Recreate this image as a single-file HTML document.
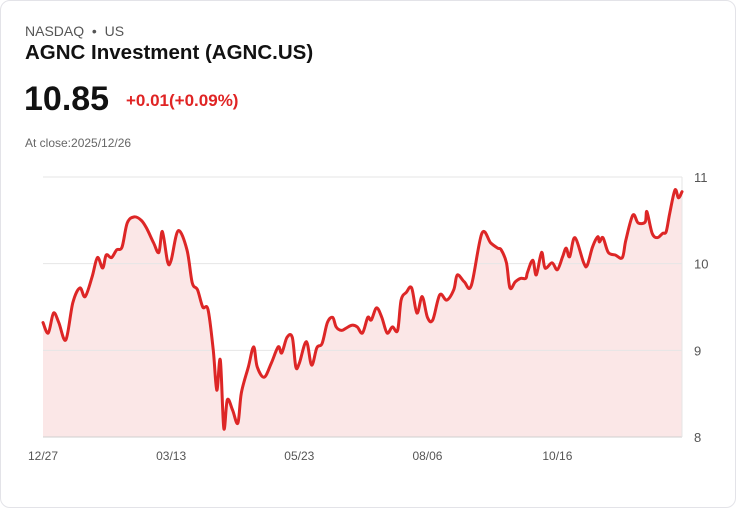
<!DOCTYPE html>
<html><head><meta charset="utf-8"><style>
html,body{margin:0;padding:0;background:#fff;}
body{width:736px;height:508px;position:relative;font-family:"Liberation Sans",sans-serif;overflow:hidden;}
.card{position:absolute;left:0;top:0;width:734px;height:506px;border:1px solid #e3e3e8;border-radius:10px;}
.t{position:absolute;white-space:nowrap;}
</style></head><body>
<div class="card"></div>
<div class="t" style="left:25px;top:23px;font-size:14px;color:#555;">NASDAQ &nbsp;•&nbsp; US</div>
<div class="t" style="left:25px;top:41px;font-size:20.5px;font-weight:bold;color:#111;">AGNC Investment (AGNC.US)</div>
<div class="t" style="left:24px;top:80px;font-size:34px;font-weight:bold;color:#111;">10.85</div>
<div class="t" style="left:126px;top:91px;font-size:17px;font-weight:bold;color:#e02424;">+0.01(+0.09%)</div>
<div class="t" style="left:25px;top:136px;font-size:12px;color:#666;">At close:2025/12/26</div>
<svg id="chart" width="736" height="508" style="position:absolute;left:0;top:0"></svg>
<script>
const days=[0,3,6,9,13,17,21,24,28,31,34,36,39,42,45,48,52,56,59,63,66,68,71,73,77,82,85,88,91,94,97,99,101,103,105,108,111,113,117,120,122,126,130,134,136,139,142,144,146,150,153,156,159,162,165,167,170,173,176,179,182,185,187,190,193,196,199,202,204,207,210,213,216,219,222,226,230,234,236,240,244,250,255,259,261,264,266,269,272,275,276,279,281,284,286,290,293,296,298,300,303,308,310,313,316,317,319,322,326,330,332,336,339,343,344,347,350,353,355,357,360,362,364];
const prices=[9.32,9.20,9.43,9.32,9.12,9.55,9.72,9.62,9.85,10.07,9.95,10.10,10.07,10.16,10.19,10.47,10.54,10.50,10.41,10.24,10.13,10.37,10.02,10.04,10.38,10.16,9.78,9.70,9.50,9.47,9.00,8.54,8.89,8.10,8.43,8.31,8.16,8.51,8.81,9.04,8.81,8.69,8.85,9.04,8.97,9.15,9.15,8.81,8.85,9.10,8.83,9.03,9.08,9.32,9.38,9.27,9.23,9.26,9.29,9.27,9.20,9.38,9.35,9.49,9.38,9.20,9.27,9.23,9.58,9.67,9.72,9.43,9.62,9.38,9.35,9.64,9.58,9.70,9.87,9.79,9.75,10.35,10.24,10.18,10.16,10.01,9.72,9.79,9.83,9.83,9.90,10.04,9.87,10.13,9.95,10.01,9.93,10.08,10.18,10.08,10.30,10.01,9.98,10.19,10.31,10.25,10.30,10.13,10.10,10.07,10.27,10.56,10.47,10.48,10.60,10.35,10.30,10.35,10.37,10.58,10.85,10.76,10.83];
const yTicks=[8,9,10,11];
const xLabels=["12/27","03/13","05/23","08/06","10/16"];
const xLabelDays=[0,73,146,219,293];
const X0=43,X1=682,Y0=437,Y1=177,DMAX=364,VMIN=8,VMAX=11;
const sx=d=>X0+(X1-X0)*d/DMAX;
const sy=v=>Y0-(Y0-Y1)*(v-VMIN)/(VMAX-VMIN);
const svg=document.getElementById('chart');
const NS='http://www.w3.org/2000/svg';
function mk(tag,attrs){const e=document.createElementNS(NS,tag);for(const k in attrs)e.setAttribute(k,attrs[k]);svg.appendChild(e);return e;}
yTicks.forEach(v=>{
  const l=mk('line',{x1:X0,x2:X1,y1:sy(v),y2:sy(v),stroke:v===VMIN?'#cfcfcf':'#e6e6e6','stroke-width':1});
  
  
  const t=mk('text',{x:694,y:sy(v)+5,'font-size':13,fill:'#555','font-family':'Liberation Sans, sans-serif'});
  t.textContent=v;
  
  
});
const ax=mk('line',{x1:X1,x2:X1,y1:Y1,y2:Y0,stroke:'#e6e6e6','stroke-width':1});


xLabels.forEach((s,i)=>{
  const t=mk('text',{x:sx(xLabelDays[i]),y:460,'font-size':12,fill:'#555','text-anchor':'middle','font-family':'Liberation Sans, sans-serif'});
  t.textContent=s;
  
  
});
const pts=days.map((d,i)=>[sx(d),sy(prices[i])]);
let p='M'+pts[0][0]+','+pts[0][1];
for(let i=0;i<pts.length-1;i++){
  const a=pts[Math.max(0,i-1)],b=pts[i],c=pts[i+1],d=pts[Math.min(pts.length-1,i+2)];
  const c1=[b[0]+(c[0]-a[0])/6,b[1]+(c[1]-a[1])/6],c2=[c[0]-(d[0]-b[0])/6,c[1]-(d[1]-b[1])/6];
  p+=` C${c1[0]},${c1[1]} ${c2[0]},${c2[1]} ${c[0]},${c[1]}`;
}
const area=mk('path',{d:p+` L${pts[pts.length-1][0]},${Y0} L${pts[0][0]},${Y0} Z`,fill:'#fbe7e7',stroke:'none'});


svg.insertBefore(area,svg.firstChild);
const line=mk('path',{d:p,fill:'none',stroke:'#dd2626','stroke-width':3,'stroke-linejoin':'round','stroke-linecap':'round'});


</script>
</body></html>
